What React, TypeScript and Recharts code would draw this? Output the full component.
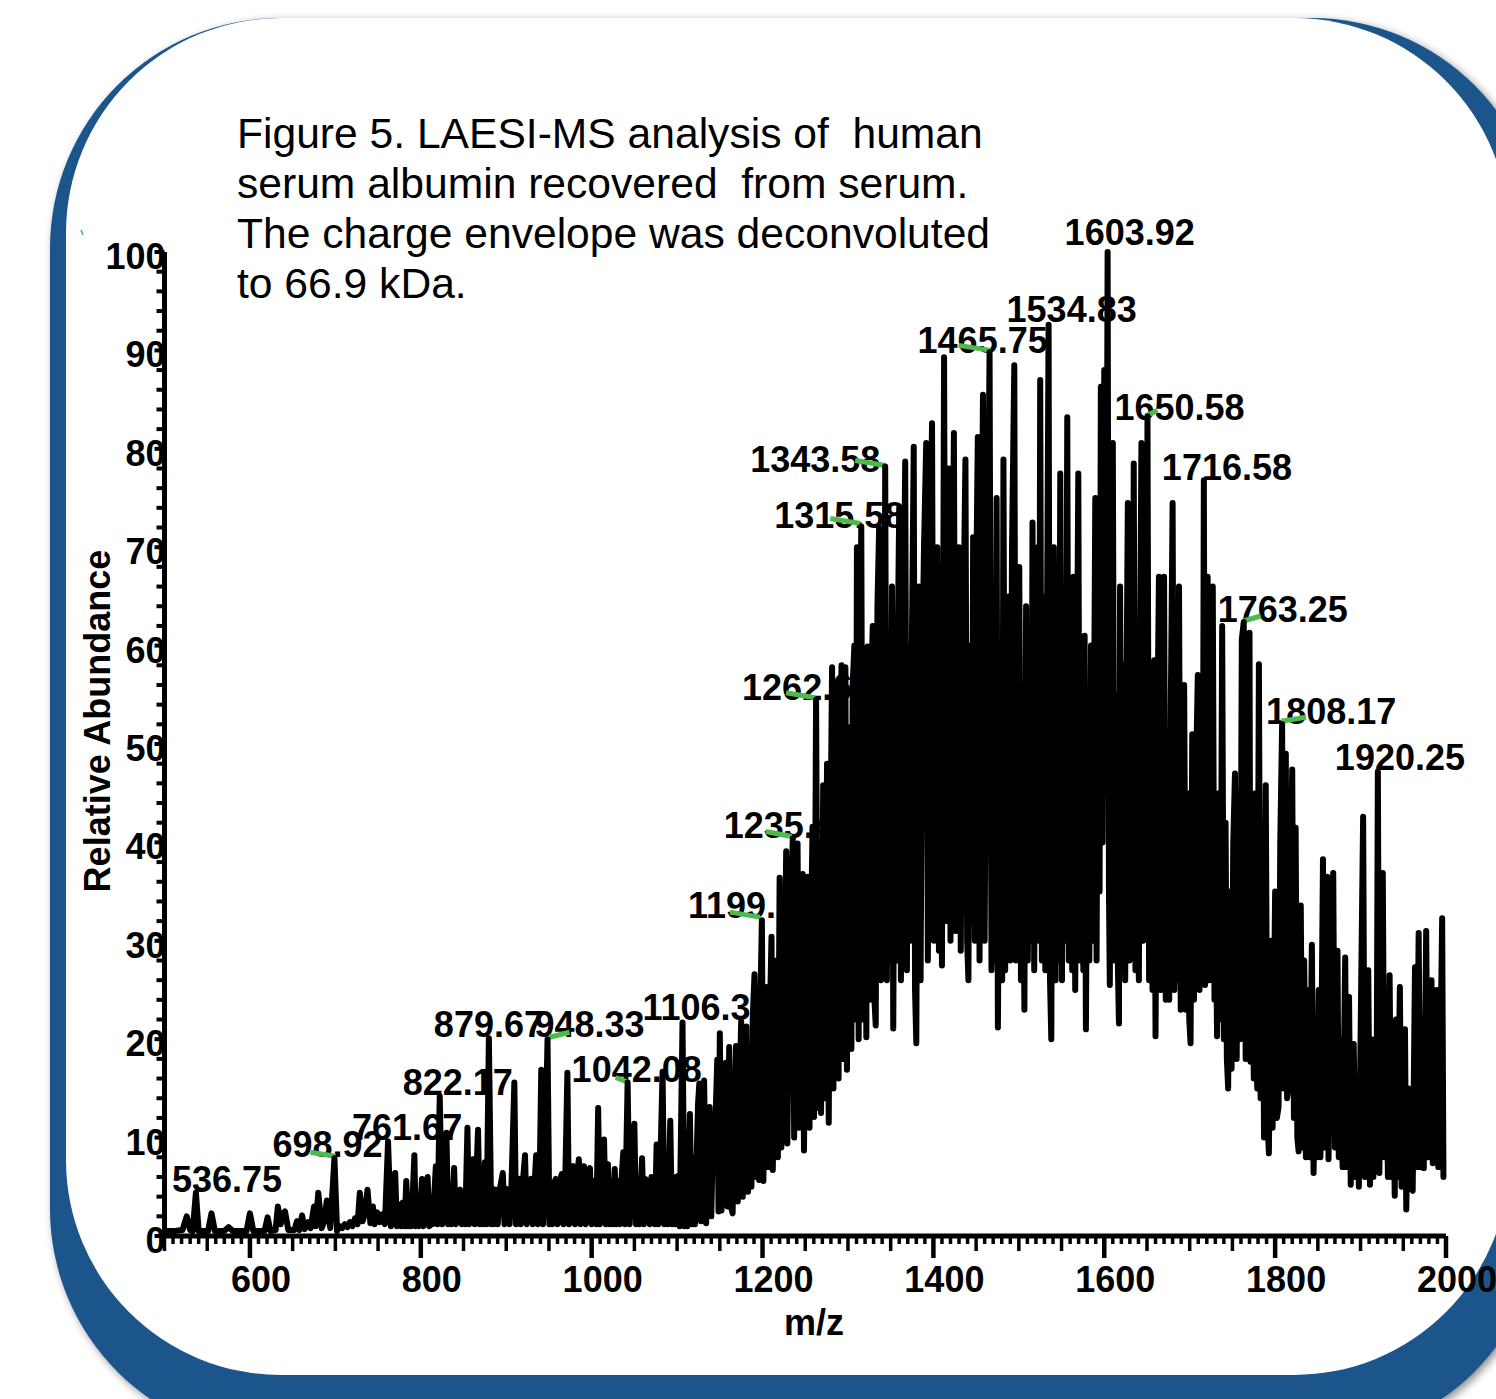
import { ComposedChart, Line, Scatter, XAxis, YAxis } from 'recharts';

const W = 1496;
const H = 1399;
const FONT = "'Liberation Sans', Arial, Helvetica, sans-serif";
const BLUE = '#1c558c';
const GREEN = '#4cbb4c';

// plot box: 500..2000 m/z across, 0..100 % down
const PLOT_MARGIN = { top: 252, right: 50, bottom: 163, left: 164.5 };
const Y_AXIS_W = 80;
const X_AXIS_H = 100;
const AXIS_MARGIN = {
    top: PLOT_MARGIN.top,
    right: PLOT_MARGIN.right,
    bottom: PLOT_MARGIN.bottom - X_AXIS_H,
    left: PLOT_MARGIN.left - Y_AXIS_W,
};

const titleLines = [
    'Figure 5. LAESI-MS analysis of  human',
    'serum albumin recovered  from serum.',
    'The charge envelope was deconvoluted',
    'to 66.9 kDa.',
];

const xLabels = [600, 800, 1000, 1200, 1400, 1600, 1800, 2000];
const yLabels = [0, 10, 20, 30, 40, 50, 60, 70, 80, 90, 100];
const xTicks = Array.from({ length: 151 }, (_, k) => 500 + k * 10);
const yTicks = Array.from({ length: 51 }, (_, k) => k * 2);

// annotated peaks (m/z, relative abundance)
const labelledMz = [536.75, 698.92, 761.67, 822.17, 879.67, 948.33, 1042.08, 1106.33, 1199.25, 1235.42, 1262.67,
    1315.58, 1343.58, 1465.75, 1534.83, 1603.92, 1650.58, 1716.58, 1763.25, 1808.17, 1920.25];
const labelledAb = [4.4, 7.9, 9.6, 14.2, 20.1, 20.0, 15.6, 21.7, 32.1, 40.4, 54.5,
    72.1, 78.2, 89.8, 92.6, 100, 83.3, 76.8, 62.4, 52, 47.2];

// text start / baseline relative to the peak top
const labelShift = [[-24, -1], [-62, -1], [-36, -2], [-37, -1], [-55, -1], [-13, -2], [-56, 0], [-40, -2], [-74, -2],
    [-69, 0], [-74, 0], [-87, 1], [-135, 5], [-72, 1], [-42, -3], [-43, -7], [-33, 4], [-42, 0], [-26, 0], [-16, 0], [-43, -2]];
// little green leader marks, x1 y1 x2 y2 relative to the peak top
const leaderShift: (number[] | null)[] = [null, [-24, -6, 1, -2], null, null, null, [2, -2, 22, -7], [-12, -5, 1, 0], null,
    [-32, -8, -2, -3], [-27, -7, -1, -2], [-30, -7, -1, -2], [-31, -8, -1, -3], [-30, -6, 0, -1], [-31, -7, 1, -2], null, null,
    [-2, 0, 10, -6], null, [0, -1, 17, -6], [-1, -3, 24, -7], null];

const lowRegion = [
    [500, 0.5], [512, 0.5], [521, 0.6], [526, 2.0], [530, 0.6], [533, 0.5],
    [540, 0.5], [551, 0.5], [555, 2.3], [559, 0.5], [570, 0.5], [575, 0.9], [580, 0.5], [596, 0.5], [600, 2.3], [604, 0.5],
    [617, 0.5], [620.7, 1.9], [624, 0.5], [630, 0.6], [632.7, 3.0], [636, 1.2], [638, 2.2], [641, 2.5], [645, 0.6], [652, 0.6],
    [655, 1.5], [658, 0.6], [661, 2.1], [664, 0.7], [668, 1.4], [671, 0.8], [675, 3.0], [677, 1.0], [680, 4.4], [684, 0.8],
    [687, 1.5], [690, 3.6], [694, 0.8],
    [702, 0.5], [705, 1.0], [708, 0.8], [711, 1.2], [714, 0.9], [717, 1.4], [720, 1.0], [723, 1.8], [726, 1.2], [728.6, 4.4],
    [732, 1.5], [735, 2.5], [737.6, 4.7], [741, 1.3], [744, 3.0], [746, 1.2], [749, 2.4], [752, 1.4], [755, 2.2], [758, 1.2],
    [765, 1.0], [767, 3.0], [770, 6.4], [772, 1.0], [775, 3.2], [777, 1.0], [779, 3.4], [781, 1.0], [783, 5.6], [785, 1.0],
    [787, 3.4], [789, 1.0], [792.5, 8.2], [794, 1.0], [796, 3.6], [798, 1.0], [801.4, 5.8], [803, 1.0], [805, 3.8], [808, 6.0],
    [810, 1.0], [812, 3.8], [814, 1.2], [817.6, 7.1], [819.5, 1.2],
    [825, 1.2], [827, 4.0], [830, 10.5], [832, 1.2], [834, 4.2], [836, 1.2], [839, 6.9], [841, 1.2], [843, 4.4], [846, 4.7],
    [848, 1.2], [850, 4.4], [852, 1.2], [854.6, 11.0], [856.5, 1.2], [858, 4.6], [861, 7.8], [863, 1.2], [867, 10.8], [869, 1.2],
    [871, 4.6], [873, 1.2], [875, 7.5], [877, 1.2],
    [882.5, 1.2], [884, 4.8], [886, 1.2], [888, 4.7], [890, 1.2], [893, 5.0], [896, 6.4], [898, 1.2], [900, 4.8], [902, 4.5],
    [904, 1.2], [906, 4.8], [909.5, 15.6], [911.5, 1.2], [913, 5.0], [915.5, 5.8], [917, 1.2], [919, 5.0], [922, 8.2], [924, 1.2],
    [926, 5.0], [929, 5.8], [931, 1.2], [933, 5.0], [935, 8.2], [937, 1.2], [939, 5.0], [941, 16.9], [943, 1.2], [945, 5.4],
    [950.5, 1.2], [952, 5.2], [954, 1.2], [956, 5.4], [958, 5.8], [960, 1.2], [962, 5.4], [965, 6.3], [967, 1.2], [969, 5.4],
    [971.6, 16.6], [973.5, 1.2], [975, 5.5], [978.5, 7.1], [980.5, 1.2], [982, 5.5], [985, 7.8], [987, 1.2], [989, 5.6], [991, 7.1],
    [993, 1.2], [995, 5.6], [998, 6.9], [1000, 1.2], [1002, 5.6], [1004, 5.6], [1005.5, 1.2], [1007.6, 13.0], [1009.5, 1.2],
    [1011, 5.6], [1014.5, 9.8], [1016.5, 1.2], [1019, 7.3], [1021, 1.2], [1023, 5.6], [1025, 1.2], [1027, 6.8], [1029, 1.2],
    [1031, 5.6], [1033, 1.2], [1035, 5.8], [1037, 8.5], [1039, 1.2],
    [1044.5, 1.2], [1047, 5.8], [1050, 11.4], [1052, 1.2], [1054, 5.8], [1056, 1.2], [1059, 7.9], [1061, 1.2], [1063, 5.8],
    [1066, 5.3], [1068, 1.2], [1070, 6.0], [1072, 5.8], [1074, 1.2], [1076, 9.3], [1078, 1.2], [1080, 6.0], [1083, 16.7],
    [1085, 1.2], [1087, 6.0], [1089, 1.2], [1092, 11.7], [1094, 1.2], [1096, 6.0], [1098, 1.2], [1101, 6.1], [1103, 1.0],
];

const riseRegion = [
    [1108.5, 1.0], [1110, 6.0], [1112, 1.0], [1115, 12.4], [1117, 1.2], [1119, 8.0], [1121, 1.2], [1124.5, 13.4], [1126, 15.5],
    [1128, 1.5], [1131.6, 15.8], [1134, 1.3], [1136, 9.0], [1138, 13.1], [1140, 2.0], [1142, 10.0], [1145, 12.0], [1147, 17.9],
    [1148.5, 2.5], [1150, 20.6], [1152, 2.6], [1154, 15.0], [1157, 17.6], [1159, 3.0], [1161, 19.2], [1163, 3.0], [1165, 2.3],
    [1167, 12.0], [1169, 19.3], [1171, 3.5], [1173, 14.0], [1175, 21.8], [1177, 4.0], [1179, 16.0], [1181, 21.3], [1183, 4.5],
    [1185, 18.0], [1187, 5.0], [1188.5, 22.0], [1190.6, 26.6], [1192.5, 6.0], [1194.5, 18.0], [1196, 5.7], [1197.5, 24.0],
    [1201, 5.6], [1203, 18.0], [1204.5, 25.3], [1206.5, 7.0], [1208.5, 22.0], [1210.5, 30.4], [1212, 6.7], [1214, 18.0],
    [1216, 28.0], [1218, 8.0], [1220, 36.4], [1222, 9.0], [1224, 28.0], [1225.5, 25.0], [1227.7, 39.1], [1229, 9.4],
    [1231, 24.0], [1233, 33.0],
    [1237, 10.0], [1239, 30.0], [1241, 39.9], [1243, 11.0], [1245, 28.0], [1247, 36.8], [1248.5, 8.7], [1250.5, 25.0],
    [1253, 36.5], [1255, 11.0], [1257, 32.0], [1258.5, 41.6], [1260.3, 12.1],
];

const coreRegion = [
    [1265, 13.0], [1267, 40.0], [1268.5, 12.5], [1271, 45.8], [1273, 14.0], [1275.5, 48.0], [1277.5, 11.5], [1279.5, 40.0],
    [1281.4, 57.8], [1283, 15.0], [1285, 52.0], [1287, 56.0], [1289, 16.0], [1291, 50.0], [1292.5, 58.0], [1294, 18.0],
    [1297, 57.8], [1298.8, 16.9], [1300.5, 40.0], [1302.5, 51.7], [1304, 19.0], [1305.5, 56.0], [1307.5, 60.0], [1309, 22.0],
    [1310.5, 70.0], [1312.5, 20.0], [1314, 55.0],
    [1317.5, 22.0], [1319.5, 55.0], [1321.5, 20.2], [1323, 59.9], [1325, 24.0], [1327, 55.0], [1329, 62.0], [1331, 24.0],
    [1332.5, 21.4], [1334.5, 64.0], [1336.5, 72.0], [1338.5, 26.0], [1340.5, 60.0], [1342, 30.0],
    [1345.5, 26.0], [1347.5, 58.0], [1349.5, 28.0], [1351.5, 66.0], [1353, 21.1], [1355, 55.0], [1357, 28.0], [1358.5, 62.0],
    [1360, 74.0], [1362, 26.0], [1364, 60.0], [1365.5, 65.0], [1367, 78.7], [1369, 27.0], [1371, 60.0], [1373, 30.0],
    [1375, 62.0], [1377, 80.2], [1378.5, 25.0], [1380, 19.6], [1381.5, 50.0], [1383, 66.0], [1385, 26.0], [1387, 58.0],
    [1389, 70.0], [1391.6, 80.6], [1393.5, 28.0], [1395.5, 62.0], [1398.4, 82.6], [1400.5, 30.0], [1402.5, 55.0], [1404.5, 70.0],
    [1406.5, 29.0], [1408.5, 45.0], [1410, 27.5], [1412.5, 89.3], [1414.5, 32.0], [1416.5, 65.0], [1418, 78.0], [1420, 30.0],
    [1422, 60.0], [1424, 81.6], [1426, 31.0], [1428, 55.0], [1430, 70.0], [1432, 29.0], [1434, 55.0], [1435.5, 65.0],
    [1437.5, 78.9], [1439.5, 30.0], [1441, 26.0], [1443, 60.0], [1445, 32.0], [1446.5, 71.0], [1448.5, 30.0], [1450, 65.0],
    [1452, 81.2], [1454, 28.0], [1456, 60.0], [1458, 85.5], [1460, 30.0], [1462, 62.0], [1463.8, 70.0],
    [1468, 27.0], [1470, 55.0], [1472, 28.0], [1474, 75.0], [1475.5, 21.2], [1477.5, 50.0], [1479, 60.0], [1480.5, 26.0],
    [1482, 78.9], [1484, 27.0], [1486, 58.0], [1488, 65.0], [1490, 28.0], [1492, 70.0], [1494.7, 88.5], [1496.5, 28.0],
    [1498.5, 58.0], [1500.5, 68.0], [1502.5, 26.0], [1504.5, 50.0], [1506.5, 23.0], [1508.5, 64.0], [1510.5, 28.0],
    [1512.5, 60.0], [1514.5, 30.0], [1516, 72.5], [1518, 27.0], [1520, 55.0], [1522, 70.0], [1523.5, 30.0], [1525, 87.0],
    [1527, 28.0], [1529, 65.0], [1531, 27.0], [1533, 62.0],
    [1536.5, 26.0], [1538, 20.0], [1539.5, 55.0], [1541, 70.0], [1543, 26.0], [1545, 60.0], [1546.5, 28.0], [1548.5, 77.5],
    [1550.5, 26.0], [1552.5, 62.0], [1554.5, 30.0], [1556.7, 83.2], [1558.5, 28.0], [1560.5, 55.0], [1562.5, 27.0], [1564, 67.0],
    [1566, 25.0], [1568, 55.0], [1569.6, 77.5], [1571.5, 28.0], [1573.5, 55.0], [1575.5, 27.0], [1577, 61.0], [1578.5, 21.0],
    [1580.5, 50.0], [1582.5, 28.0], [1584.5, 60.0], [1586.5, 30.0], [1589.5, 75.0], [1591, 28.0], [1593, 70.0], [1594.5, 35.0],
    [1596, 86.3], [1598, 40.0], [1600, 88.0], [1602, 45.0],
    [1605.5, 35.0], [1606.5, 25.5], [1608, 60.0], [1610, 80.6], [1612, 28.0], [1614, 55.0], [1616, 27.0], [1617.2, 21.6],
    [1618.5, 66.0], [1620.5, 27.0], [1622.5, 58.0], [1624.5, 26.0], [1626, 55.0], [1627.6, 74.5], [1629.5, 28.0], [1631.5, 60.0],
    [1633, 30.0], [1634.5, 78.5], [1636.5, 27.0], [1638.5, 55.0], [1640.5, 26.0], [1642, 60.0], [1643.5, 80.6], [1645.5, 30.0],
    [1647.5, 60.0], [1649, 35.0],
    [1652.5, 26.0], [1654.5, 50.0], [1656.5, 25.0], [1658.5, 58.5], [1660, 20.3], [1662, 50.0], [1664, 67.0], [1666, 25.0],
    [1668, 55.0], [1670, 67.0], [1672, 24.0], [1674, 50.0], [1676, 24.0], [1678, 55.0], [1680, 74.5], [1682, 25.0], [1684, 55.0],
    [1686, 26.0], [1687.5, 66.0], [1689.5, 23.0], [1691.5, 45.0], [1693.5, 56.0], [1695.5, 23.0], [1697.5, 45.0], [1699.5, 22.0],
    [1701, 19.6], [1703, 51.0], [1705, 24.0], [1707, 45.0], [1709.5, 57.0], [1711.5, 25.0], [1713.5, 45.0], [1715, 30.0],
    [1718, 25.5], [1719.5, 50.0], [1721, 67.0], [1723, 26.0], [1725, 50.0], [1727, 66.0], [1729, 24.0], [1730.5, 35.0],
    [1732, 20.3], [1734, 45.0], [1736, 22.0], [1738, 62.0], [1740, 20.0], [1742, 42.0], [1743.5, 18.0], [1745, 15.0],
    [1747, 35.0], [1749, 17.0], [1751, 40.0], [1753, 47.0], [1755, 18.0], [1757, 45.0], [1759, 20.0], [1761, 60.6],
];

const tailRegion = [
    [1765.5, 18.0], [1767.5, 45.0], [1770, 61.3], [1771.2, 17.7], [1773, 40.0], [1775, 16.0], [1777, 45.0], [1779, 15.0],
    [1781, 58.1], [1783, 14.0], [1785, 40.0], [1787, 10.0], [1789, 45.8], [1791, 12.0], [1792.7, 8.4], [1795, 30.0],
    [1797, 11.0], [1800, 35.0], [1802, 12.0], [1804, 13.1], [1806, 40.0],
    [1810, 15.0], [1812.5, 49.0], [1814, 14.0], [1816, 15.2], [1818, 35.0], [1820, 47.4], [1822, 12.0], [1824, 41.5],
    [1826, 10.0], [1827.5, 8.6], [1830, 33.6], [1832, 9.0], [1834, 28.0], [1836, 8.0], [1838, 25.0], [1840, 8.0],
    [1843, 29.6], [1845, 6.4], [1847, 20.0], [1849, 8.0], [1851, 25.0], [1853, 8.0], [1856, 38.3], [1858, 9.0],
    [1861, 36.5], [1862.5, 7.8], [1865, 25.0], [1868, 36.9], [1870, 9.0], [1873, 29.0], [1874.5, 8.0], [1877, 20.0],
    [1879, 7.0], [1882, 28.3], [1884, 7.0], [1886.5, 24.3], [1888.5, 5.2], [1890, 15.0], [1892, 19.5], [1894, 6.0],
    [1896, 15.0], [1898, 5.0], [1900, 20.0], [1903, 42.6], [1905, 6.0], [1907, 22.0], [1909, 27.0], [1911, 5.2],
    [1913, 20.0], [1915, 6.0], [1917, 18.0], [1918.5, 7.0],
    [1922, 6.4], [1924, 20.0], [1926, 36.9], [1928, 8.0], [1930, 22.0], [1932, 6.0], [1934, 26.5], [1936, 6.0], [1938, 18.0],
    [1940, 4.1], [1941.5, 22.0], [1943, 6.0], [1946, 25.3], [1948, 5.0], [1950, 15.0], [1952, 21.0], [1953.5, 2.7],
    [1956, 15.0], [1958, 5.0], [1961, 4.6], [1963.7, 27.3], [1965.5, 7.0], [1968, 30.8], [1970, 7.0], [1972, 20.0],
    [1974, 6.9], [1976.8, 31.0], [1979, 8.0], [1981, 20.0], [1983, 26.0], [1984.5, 7.4], [1986.5, 18.0], [1989, 25.0],
    [1991, 7.0], [1993, 15.0], [1995.5, 32.3], [1997, 6.0],
];

const spectrum = [...lowRegion, ...riseRegion, ...coreRegion, ...tailRegion,
    ...labelledMz.map((mz, i) => [mz, labelledAb[i]])]
    .sort((a, b) => a[0] - b[0])
    .map(([mz, ab]) => ({ mz, ab }));

const labelRows = labelledMz.map((mz, i) => ({ mz, ab: labelledAb[i], i }));

const XTick = ({ x, y, payload }: any) => {
    const v = payload.value;
    const major = xLabels.includes(v);
    const len = major ? 22 : v % 50 === 0 ? 15 : 8;
    return (
        <g>
            <line x1={x} y1={y} x2={x} y2={y + len} stroke="#000" strokeWidth={major ? 4.5 : 3.5} />
            {major && (
                <text x={x + 11} y={y + 56} textAnchor="middle" fontFamily={FONT} fontWeight="bold" fontSize={36} fill="#000">
                    {v}
                </text>
            )}
        </g>
    );
};

const YTick = ({ x, y, payload }: any) => {
    const v = payload.value;
    const major = yLabels.includes(v);
    return (
        <g>
            <line x1={x - (major ? 10 : 8)} y1={y} x2={x} y2={y} stroke="#000" strokeWidth={4} />
            {major && (
                <text x={x + 1} y={y + 17} textAnchor="end" fontFamily={FONT} fontWeight="bold" fontSize={36} fill="#000">
                    {v}
                </text>
            )}
        </g>
    );
};

const PeakLabel = (props: any) => {
    const { cx, cy, payload } = props;
    const [dx, dy] = labelShift[payload.i];
    const lead = leaderShift[payload.i];
    return (
        <g>
            <text x={cx + dx} y={cy + dy} fontFamily={FONT} fontWeight="bold" fontSize={36} fill="#000">
                {payload.mz.toFixed(2)}
            </text>
            {lead && (
                <line x1={cx + lead[0]} y1={cy + lead[1]} x2={cx + lead[2]} y2={cy + lead[3]}
                    stroke={GREEN} strokeWidth={5} />
            )}
        </g>
    );
};

const layer: React.CSSProperties = { position: 'absolute', left: 0, top: 0 };

export default function App() {
    return (
        <div style={{ position: 'absolute', left: 0, top: 0, width: W, height: H, overflow: 'hidden', background: '#fff' }}>
            <svg width={W} height={H} style={layer}>
                <defs>
                    <filter id="frameShadow" x="-5%" y="-5%" width="110%" height="110%">
                        <feDropShadow dx="3" dy="3" stdDeviation="4" floodColor="#000" floodOpacity="0.45" />
                    </filter>
                </defs>
                <rect x={50} y={18} width={1492} height={1421} rx={230} fill={BLUE} filter="url(#frameShadow)" />
                <rect x={66} y={18} width={1443} height={1357} rx={215} fill="#fff" />
                <line x1={81} y1={230} x2={83} y2={235} stroke={GREEN} strokeWidth={1.5} />
                {titleLines.map((t, i) => (
                    <text key={i} x={237} y={148 + i * 50} fontFamily={FONT} fontSize={42.6} fill="#000" style={{ whiteSpace: 'pre' }}>
                        {t}
                    </text>
                ))}
                <text x={110} y={721} transform="rotate(-90 110 721)" textAnchor="middle" fontFamily={FONT}
                    fontWeight="bold" fontSize={36} fill="#000">
                    Relative Abundance
                </text>
                <text x={814} y={1335} textAnchor="middle" fontFamily={FONT} fontWeight="bold" fontSize={36} fill="#000">
                    m/z
                </text>
            </svg>

            {/* peak annotations sit underneath the trace */}
            <div style={layer}>
                <ComposedChart width={W} height={H} margin={PLOT_MARGIN}>
                    <XAxis dataKey="mz" type="number" domain={[500, 2000]} hide />
                    <YAxis dataKey="ab" type="number" domain={[0, 100]} hide />
                    <Scatter data={labelRows} dataKey="ab" shape={PeakLabel} isAnimationActive={false} />
                </ComposedChart>
            </div>

            <div style={layer}>
                <ComposedChart width={W} height={H} margin={AXIS_MARGIN} data={spectrum}>
                    <XAxis dataKey="mz" type="number" domain={[500, 2000]} ticks={xTicks} interval={0} height={X_AXIS_H}
                        tickSize={0} tickMargin={0} tickLine={false} axisLine={{ stroke: '#000', strokeWidth: 5 }}
                        tick={<XTick />} />
                    <YAxis dataKey="ab" type="number" domain={[0, 100]} ticks={yTicks} interval={0} width={Y_AXIS_W}
                        tickSize={0} tickMargin={0} tickLine={false} axisLine={{ stroke: '#000', strokeWidth: 5 }}
                        tick={<YTick />} />
                    <Line type="linear" dataKey="ab" stroke="#000" strokeWidth={6} strokeLinejoin="round"
                        strokeLinecap="round" dot={false} activeDot={false} isAnimationActive={false} />
                </ComposedChart>
            </div>
        </div>
    );
}
